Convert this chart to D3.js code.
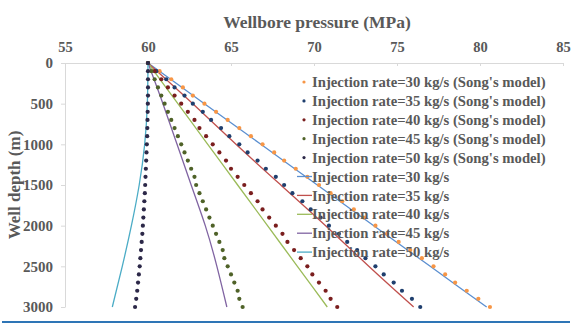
<!DOCTYPE html>
<html>
<head>
<meta charset="utf-8">
<script src="https://cdn.jsdelivr.net/npm/d3@7"></script>
<style>
  body { margin: 0; background: #fff; }
  text { font-family: "Liberation Serif", "Times New Roman", serif; font-weight: bold; fill: #595959; }
</style>
</head>
<body>
<script>
// Wellbore pressure profiles along depth, Song's model (dots) vs this model (lines)

let svgWidth = 580;
let svgHeight = 331;

let margin = { top: 63, right: 17, bottom: 24, left: 65 };
let width = svgWidth - margin.left - margin.right;
let height = svgHeight - margin.top - margin.bottom;

// depth points for Song's model (every 100 m) and for the model lines (every 500 m)
let songDepth = d3.range(0, 3001, 100);
let lineDepth = [0, 500, 1000, 1500, 2000, 2500, 3000];

let xTicks = [55, 60, 65, 70, 75, 80, 85];
let yTicks = [0, 500, 1000, 1500, 2000, 2500, 3000];

// Song's model, pressure in MPa
let song30 = [60.0, 60.7, 61.4, 62.1, 62.7, 63.4, 64.1, 64.8, 65.5, 66.2, 66.9, 67.6, 68.2, 68.9, 69.6, 70.3,
  71.0, 71.7, 72.4, 73.0, 73.7, 74.4, 75.1, 75.8, 76.5, 77.2, 77.9, 78.5, 79.2, 79.9, 80.6];
let song35 = [60.0, 60.5, 61.1, 61.6, 62.2, 62.7, 63.3, 63.8, 64.4, 64.9, 65.5, 66.0, 66.6, 67.1, 67.7, 68.2,
  68.7, 69.3, 69.8, 70.4, 70.9, 71.5, 72.0, 72.6, 73.1, 73.7, 74.2, 74.8, 75.3, 75.9, 76.4];
let song40 = [60.0, 60.4, 60.8, 61.2, 61.6, 62.0, 62.4, 62.8, 63.1, 63.5, 63.9, 64.3, 64.7, 65.0, 65.4, 65.8,
  66.2, 66.6, 66.9, 67.3, 67.7, 68.1, 68.4, 68.8, 69.2, 69.6, 69.9, 70.3, 70.7, 71.0, 71.4];
let song45 = [60.0, 60.2, 60.4, 60.6, 60.8, 61.0, 61.2, 61.4, 61.6, 61.8, 62.0, 62.2, 62.4, 62.6, 62.8, 62.9,
  63.1, 63.3, 63.5, 63.7, 63.9, 64.1, 64.3, 64.5, 64.6, 64.8, 65.0, 65.2, 65.4, 65.5, 65.7];
let song50 = [60.0, 60.0, 60.0, 60.0, 60.0, 59.99, 59.98, 59.97, 59.96, 59.95, 59.93, 59.91, 59.89, 59.87, 59.85, 59.83,
  59.81, 59.78, 59.75, 59.72, 59.69, 59.66, 59.62, 59.58, 59.54, 59.50, 59.45, 59.40, 59.35, 59.29, 59.22];

// this model, pressure in MPa
let line30 = [60, 63.4, 66.8, 70.2, 73.6, 77.0, 80.4];
let line35 = [60, 62.7, 65.3, 68.0, 70.7, 73.3, 76.0];
let line40 = [60, 61.8, 63.6, 65.4, 67.2, 69.0, 70.8];
let line45 = [60, 60.9, 61.75, 62.6, 63.45, 64.15, 64.75];
let line50 = [60, 59.96, 59.8, 59.47, 59.0, 58.45, 57.85];

let songNames = ["Injection rate=30 kg/s (Song's model)", "Injection rate=35 kg/s (Song's model)",
  "Injection rate=40 kg/s (Song's model)", "Injection rate=45 kg/s (Song's model)",
  "Injection rate=50 kg/s (Song's model)"];
let lineNames = ["Injection rate=30 kg/s", "Injection rate=35 kg/s", "Injection rate=40 kg/s",
  "Injection rate=45 kg/s", "Injection rate=50 kg/s"];

let songColors = ["#F79646", "#1F3F6E", "#7A1E1E", "#4F6228", "#2C2848"];
let lineColors = ["#5B8FD0", "#C0504D", "#9BBB59", "#8064A2", "#4BACC6"];

let songSeries = [song30, song35, song40, song45, song50];
let lineSeries = [line30, line35, line40, line45, line50];

let svg = d3.select("body")
  .append("svg")
  .attr("width", svgWidth)
  .attr("height", svgHeight);

let chartGroup = svg.append("g")
  .attr("transform", `translate(${margin.left}, ${margin.top})`);

let xScale = d3.scaleLinear().domain([55, 85]).range([0, width]);
let yScale = d3.scaleLinear().domain([0, 3000]).range([0, height]);

// axes: pressure on top, depth down the left
let xAxis = d3.axisTop(xScale).tickValues(xTicks).tickFormat(d3.format("d"))
  .tickSizeInner(-3).tickSizeOuter(0).tickPadding(11);
let yAxis = d3.axisLeft(yScale).tickValues(yTicks).tickFormat(d3.format("d"))
  .tickSizeInner(4).tickSizeOuter(0).tickPadding(8);

let gx = chartGroup.append("g").call(xAxis);
let gy = chartGroup.append("g").call(yAxis);
[gx, gy].forEach(g => {
  g.attr("font-family", null);
  g.select(".domain").attr("stroke", "#D9D9D9");
  g.selectAll(".tick line").attr("stroke", "#D9D9D9");
  g.selectAll(".tick text").attr("fill", "#595959");
});
gx.selectAll(".tick text").attr("font-size", 14.5);
gy.selectAll(".tick text").attr("font-size", 15);

// model lines
let lineGen = d3.line()
  .x(d => xScale(d.p))
  .y(d => yScale(d.z))
  .curve(d3.curveNatural);

lineSeries.forEach((vals, i) => {
  chartGroup.append("path")
    .datum(vals.map((p, j) => ({ p: p, z: lineDepth[j] })))
    .attr("d", lineGen)
    .attr("fill", "none")
    .attr("stroke", lineColors[i])
    .attr("stroke-width", 1.3);
});

// Song's model dots
songSeries.forEach((vals, i) => {
  chartGroup.append("g").selectAll("circle")
    .data(vals.map((p, j) => ({ p: p, z: songDepth[j] })))
    .enter()
    .append("circle")
    .attr("cx", d => xScale(d.p))
    .attr("cy", d => yScale(d.z))
    .attr("r", 2.1)
    .attr("fill", songColors[i]);
});

// legend
let legend = svg.append("g").attr("transform", "translate(304, 82)");
let rowH = 18.9;
songNames.forEach((name, i) => {
  let row = legend.append("g").attr("transform", `translate(0, ${i * rowH})`);
  row.append("circle").attr("r", 1.6).attr("fill", songColors[i]);
  row.append("text").attr("x", 8).attr("dy", "0.35em").attr("font-size", 14.7).text(name);
});
lineNames.forEach((name, i) => {
  let row = legend.append("g").attr("transform", `translate(0, ${(i + 5) * rowH})`);
  row.append("line").attr("x1", -7).attr("x2", 8).attr("stroke", lineColors[i]).attr("stroke-width", 1.3);
  row.append("text").attr("x", 8).attr("dy", "0.35em").attr("font-size", 14.7).text(name);
});

// titles
svg.append("text")
  .attr("x", 317)
  .attr("y", 28)
  .attr("text-anchor", "middle")
  .attr("font-size", 17.5)
  .text("Wellbore pressure (MPa)");

svg.append("text")
  .attr("transform", `translate(20, ${margin.top + height / 2}) rotate(-90)`)
  .attr("text-anchor", "middle")
  .attr("font-size", 17)
  .text("Well depth (m)");

// rule along the bottom
svg.append("line")
  .attr("x1", 2).attr("x2", 570)
  .attr("y1", 322).attr("y2", 322)
  .attr("stroke", "#2E75B6")
  .attr("stroke-width", 2);
</script>
</body>
</html>
